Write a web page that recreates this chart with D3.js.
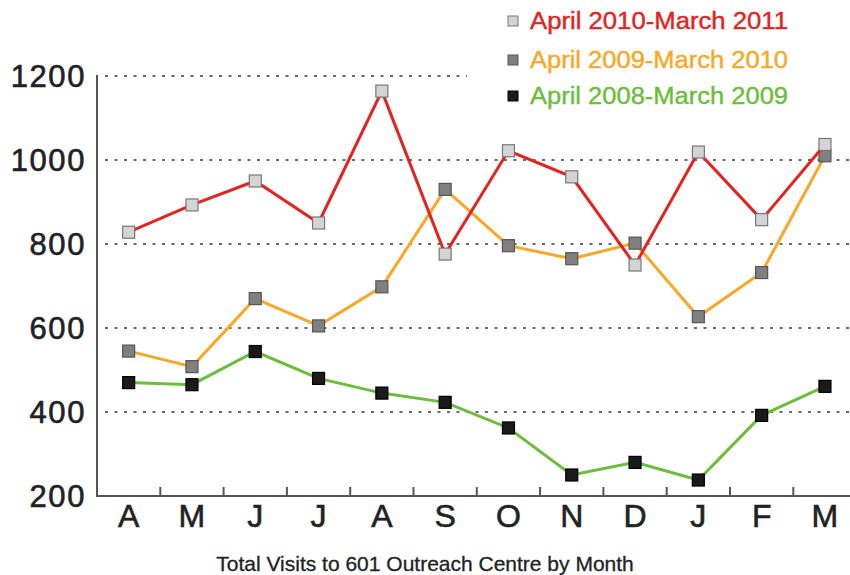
<!DOCTYPE html>
<html>
<head>
<meta charset="utf-8">
<script src="https://cdn.jsdelivr.net/npm/d3@7"></script>
<style>
  body { margin: 0; background: #fff; }
  svg { font-family: "Liberation Sans", Arial, Helvetica, sans-serif; }
</style>
</head>
<body>
<svg width="850" height="575"></svg>
<script>
let months = ["A", "M", "J", "J", "A", "S", "O", "N", "D", "J", "F", "M"];
let yTicks = [200, 400, 600, 800, 1000, 1200];
let seriesNames = ["April 2010-March 2011", "April 2009-March 2010", "April 2008-March 2009"];
let visits2010 = [828, 893, 950, 850, 1164, 776, 1022, 960, 750, 1019, 858, 1037];
let visits2009 = [545, 508, 670, 605, 698, 930, 796, 765, 802, 627, 732, 1010];
let visits2008 = [470, 465, 544, 480, 445, 423, 362, 250, 280, 238, 392, 461];

let svg = d3.select("svg"),
    plotLeft = 97,
    bandW = 63.3,
    plotTop = 76,
    plotBottom = 496;

let series = [
    {name: seriesNames[2], values: visits2008, line: "#6cbd3c", fill: "#1a1a1a", stroke: "#000"},
    {name: seriesNames[1], values: visits2009, line: "#f8a826", fill: "#808080", stroke: "#555"},
    {name: seriesNames[0], values: visits2010, line: "#e2231f", fill: "#d4d4d6", stroke: "#777"}
];

let x = d3.scaleBand()
    .domain(d3.range(months.length))
    .range([plotLeft, plotLeft + bandW * months.length]);

let y = d3.scaleLinear()
    .domain([200, 1200])
    .range([plotBottom, plotTop]);

// gridlines
svg.append("g")
    .selectAll("line")
    .data(yTicks.filter(d => d > 200))
    .enter().append("line")
    .attr("x1", plotLeft + 8)
    .attr("x2", d => d == 1200 ? 467 : 850)
    .attr("y1", d => y(d))
    .attr("y2", d => y(d))
    .attr("stroke", "#6a6a6a")
    .attr("stroke-width", 2)
    .attr("stroke-dasharray", "3 6.5");

// y labels
svg.append("g")
    .selectAll("text")
    .data(yTicks)
    .enter().append("text")
    .attr("x", 86)
    .attr("y", d => y(d))
    .attr("dy", "0.36em")
    .attr("text-anchor", "end")
    .attr("font-size", 31)
    .attr("letter-spacing", 1.6)
    .attr("fill", "#222")
    .attr("stroke", "#222")
    .attr("stroke-width", 0.6)
    .text(d => d);

// axes lines
svg.append("line")
    .attr("x1", plotLeft).attr("x2", plotLeft)
    .attr("y1", plotTop - 1).attr("y2", plotBottom + 1)
    .attr("stroke", "#555").attr("stroke-width", 2);
svg.append("line")
    .attr("x1", plotLeft).attr("x2", 850)
    .attr("y1", plotBottom).attr("y2", plotBottom)
    .attr("stroke", "#555").attr("stroke-width", 2);

// x ticks between months
svg.append("g")
    .selectAll("line")
    .data(d3.range(1, months.length))
    .enter().append("line")
    .attr("x1", d => x(d)).attr("x2", d => x(d))
    .attr("y1", plotBottom).attr("y2", plotBottom - 9)
    .attr("stroke", "#555").attr("stroke-width", 2);

svg.append("g")
    .selectAll("text")
    .data(months)
    .enter().append("text")
    .attr("x", (d, i) => x(i) + x.bandwidth() / 2)
    .attr("y", 527)
    .attr("text-anchor", "middle")
    .attr("font-size", 32)
    .attr("fill", "#222")
    .attr("stroke", "#222")
    .attr("stroke-width", 0.6)
    .text(d => d);

// title
svg.append("text")
    .attr("x", 425)
    .attr("y", 571)
    .attr("text-anchor", "middle")
    .attr("font-size", 21)
    .attr("fill", "#222")
    .attr("stroke", "#222")
    .attr("stroke-width", 0.3)
    .text("Total Visits to 601 Outreach Centre by Month");

let line = d3.line()
    .x((d, i) => x(i) + x.bandwidth() / 2)
    .y(d => y(d));

let gs = svg.selectAll(".series")
    .data(series)
    .enter().append("g")
    .attr("class", "series");

gs.append("path")
    .attr("d", d => line(d.values))
    .attr("fill", "none")
    .attr("stroke", d => d.line)
    .attr("stroke-width", 3);

gs.each(function (s) {
    d3.select(this).selectAll("rect")
        .data(s.values)
        .enter().append("rect")
        .attr("x", (d, i) => x(i) + x.bandwidth() / 2 - 6)
        .attr("y", d => y(d) - 6)
        .attr("width", 12)
        .attr("height", 12)
        .attr("fill", s.fill)
        .attr("stroke", s.stroke)
        .attr("stroke-width", 1.2);
});

// legend
let legend = svg.append("g")
    .selectAll("g")
    .data(series.slice().reverse())
    .enter().append("g")
    .attr("transform", (d, i) => "translate(" + [513, [21, 60, 96][i]] + ")");

legend.append("rect")
    .attr("x", -5).attr("y", -5)
    .attr("width", 10).attr("height", 10)
    .attr("fill", d => d.fill)
    .attr("stroke", d => d.stroke)
    .attr("stroke-width", 1);

legend.append("text")
    .attr("x", 17)
    .attr("dy", "0.36em")
    .attr("font-size", 23)
    .attr("textLength", 258)
    .attr("lengthAdjust", "spacingAndGlyphs")
    .attr("fill", d => d.line)
    .attr("stroke", d => d.line)
    .attr("stroke-width", 0.4)
    .text(d => d.name);
</script>
</body>
</html>
